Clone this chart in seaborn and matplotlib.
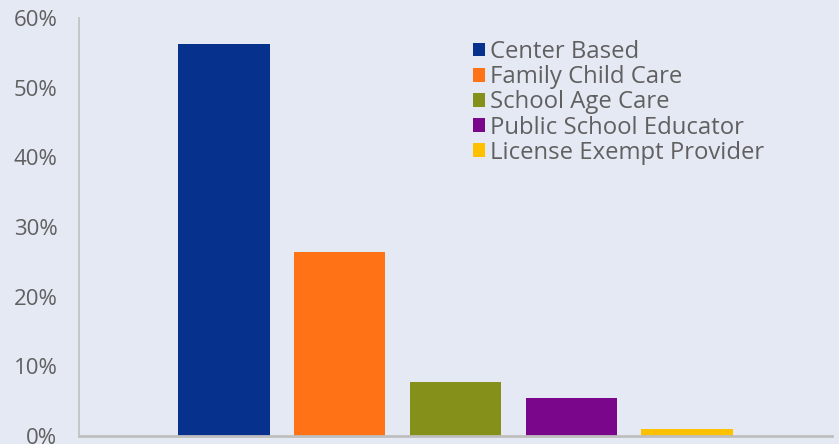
import matplotlib
matplotlib.use("Agg")
import matplotlib.pyplot as plt
import seaborn as sns
import pandas as pd
from matplotlib.ticker import FuncFormatter

categories = ["Center Based", "Family Child Care", "School Age Care",
              "Public School Educator", "License Exempt Provider"]
values = [56.3, 26.4, 7.8, 5.5, 1.0]
colors = ["#06318C", "#FF7316", "#84901A", "#7A068C", "#FFC000"]
yticks = [0, 10, 20, 30, 40, 50, 60]

bg = "#E5E9F4"
sns.set_theme(style="white")
plt.rcParams["font.family"] = ["Open Sans", "DejaVu Sans"]

df = pd.DataFrame({"category": categories, "value": values})

fig = plt.figure(figsize=(8.39, 4.44), dpi=100, facecolor=bg)
ax = fig.add_axes([79/839, 8/444, (832-79)/839, (436-18)/444])
ax.set_facecolor(bg)

sns.barplot(data=df, x="category", y="value", hue="category",
            palette=colors, dodge=False, width=0.79, ax=ax,
            legend=True, saturation=1, linewidth=0)

ax.set_xlim(-1.25, 5.25)
ax.set_ylim(0, 60)
ax.set_yticks(yticks)
ax.yaxis.set_major_formatter(FuncFormatter(lambda v, p: f"{int(v)}%"))
ax.tick_params(axis="y", length=0, labelsize=16, labelcolor="#606060", pad=15.5)
ax.set_xticks([])
ax.set_xlabel("")
ax.set_ylabel("")
for s in ["top", "right"]:
    ax.spines[s].set_visible(False)
ax.spines["left"].set_color("#BFBFBF")
ax.spines["left"].set_linewidth(1.2)
ax.spines["bottom"].set_color("#BFBFBF")
ax.spines["bottom"].set_linewidth(2)

leg = ax.legend(loc="upper left", bbox_to_anchor=((473-79)/753, 1 - (40-18)/418),
                frameon=False, fontsize=17.2, handlelength=0.5, handleheight=0.5,
                handletextpad=0.22, labelspacing=0.05, borderaxespad=0, borderpad=0)
for t in leg.get_texts():
    t.set_color("#606060")

fig.savefig("out.png", dpi=100, facecolor=bg)
